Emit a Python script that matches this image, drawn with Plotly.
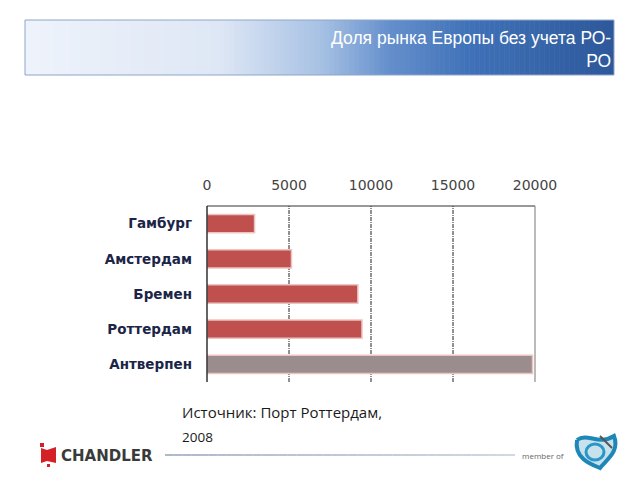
import plotly.graph_objects as go

# ---- data ----
ports = ["Гамбург", "Амстердам", "Бремен", "Роттердам", "Антверпен"]
values = [2900, 5150, 9200, 9450, 19850]
bar_colors = ["#c0504d", "#c0504d", "#c0504d", "#c0504d", "#9b8d8d"]
tick_vals = [0, 5000, 10000, 15000, 20000]
tick_text = ["0", "5000", "10000", "15000", "20000"]
title_text = "Доля рынка Европы без учета РО-<br>РО"
source_line1 = "Источник: Порт Роттердам,"
source_line2 = "2008"

# ---- layout geometry (pixels) ----
W, H = 640, 480
L, R, T, B = 207, 535, 206, 382
PW, PH = R - L, B - T


def px(x):
    return (x - L) / PW


def py(y):
    return (B - y) / PH


fig = go.Figure()
fig.add_trace(go.Bar(
    x=values, y=ports, orientation="h",
    marker=dict(color=bar_colors, line=dict(color="#ecc4c2", width=1.5)),
    width=0.52, hoverinfo="skip",
))

shapes = []

# header gradient box
stops = [(0.0, (238, 243, 251)), (0.33, (222, 231, 245)), (0.5, (168, 194, 228)),
         (0.62, (100, 143, 204)), (0.75, (64, 114, 185)), (1.0, (45, 88, 154))]


def grad(t):
    for (t0, c0), (t1, c1) in zip(stops[:-1], stops[1:]):
        if t0 <= t <= t1:
            f = (t - t0) / (t1 - t0) if t1 > t0 else 0
            return "rgb(%d,%d,%d)" % tuple(round(a + (b - a) * f) for a, b in zip(c0, c1))
    return "rgb(%d,%d,%d)" % stops[-1][1]


hx0, hx1, hy0, hy1 = 25, 614, 20, 75
n = 118
for i in range(n):
    a = hx0 + (hx1 - hx0) * i / n
    b = hx0 + (hx1 - hx0) * (i + 1) / n + 0.6
    shapes.append(dict(type="rect", xref="paper", yref="paper", layer="below",
                       x0=px(a), x1=px(min(b, hx1)), y0=py(hy1), y1=py(hy0),
                       fillcolor=grad((i + 0.5) / n), line=dict(width=0)))
shapes.append(dict(type="rect", xref="paper", yref="paper", x0=px(hx0), x1=px(hx1),
                   y0=py(hy1), y1=py(hy0), line=dict(color="#8ea5c9", width=1)))

# grid lines (dashed) from tick values
for v in tick_vals[1:-1]:
    shapes.append(dict(type="line", xref="x", yref="paper", x0=v, x1=v, y0=0, y1=1,
                       line=dict(color="#222222", width=1, dash="4px,1px,1px,1px"), layer="below"))
# plot frame: top, left, right
shapes.append(dict(type="line", xref="paper", yref="paper", x0=0, x1=1, y0=1, y1=1,
                   line=dict(color="#333333", width=1)))
shapes.append(dict(type="line", xref="paper", yref="paper", x0=0, x1=0, y0=0, y1=1,
                   line=dict(color="#111111", width=1.3)))
shapes.append(dict(type="line", xref="paper", yref="paper", x0=1, x1=1, y0=0, y1=1,
                   line=dict(color="#777777", width=1)))

# footer line
fn = 40
for i in range(fn):
    a = 165 + (515 - 165) * i / fn
    b = 165 + (515 - 165) * (i + 1) / fn
    t = i / fn
    c = (round(120 + 60 * t), round(140 + 50 * t), round(170 + 40 * t))
    shapes.append(dict(type="line", xref="paper", yref="paper", x0=px(a), x1=px(b),
                       y0=py(455), y1=py(455), line=dict(color="rgb(%d,%d,%d)" % c, width=1.2)))

# CHANDLER icon
shapes.append(dict(type="path", xref="paper", yref="paper",
                   path="M %f,%f L %f,%f L %f,%f L %f,%f L %f,%f L %f,%f Z" % (
                       px(41), py(448), px(47), py(450), px(56), py(447),
                       px(56), py(463), px(47), py(461), px(41), py(463)),
                   fillcolor="#d42027", line=dict(width=0)))
shapes.append(dict(type="rect", xref="paper", yref="paper", x0=px(40), x1=px(44),
                   y0=py(447), y1=py(443), fillcolor="#d42027", line=dict(width=0)))
shapes.append(dict(type="rect", xref="paper", yref="paper", x0=px(47), x1=px(50),
                   y0=py(467), y1=py(464), fillcolor="#d42027", line=dict(width=0)))

# member logo (approximation)
lg = "M %f,%f C %f,%f %f,%f %f,%f C %f,%f %f,%f %f,%f C %f,%f %f,%f %f,%f" % (
    px(577), py(440), px(588), py(432), px(598), py(446), px(614), py(436),
    px(620), py(452), px(606), py(460), px(600), py(468),
    px(590), py(464), px(574), py(458), px(577), py(440))
shapes.append(dict(type="path", xref="paper", yref="paper", path=lg,
                   fillcolor="rgba(31,134,184,0.25)", line=dict(color="#1f86b8", width=4)))
shapes.append(dict(type="circle", xref="paper", yref="paper", x0=px(586), x1=px(604),
                   y0=py(460), y1=py(444), line=dict(color="#2a97c8", width=3)))
shapes.append(dict(type="line", xref="paper", yref="paper", x0=px(600), x1=px(612),
                   y0=py(436), y1=py(448), line=dict(color="#555555", width=2)))

annotations = [
    dict(text=title_text, xref="paper", yref="paper", x=px(613), y=py(26),
         xanchor="right", yanchor="top", align="right", showarrow=False,
         font=dict(family="Liberation Sans, Arial", size=17.5, color="white")),
    dict(text=source_line1, xref="paper", yref="paper", x=px(180), y=py(412),
         xanchor="left", yanchor="middle", showarrow=False,
         font=dict(family="Open Sans", size=15, color="#1a1a1a")),
    dict(text=source_line2, xref="paper", yref="paper", x=px(180), y=py(437),
         xanchor="left", yanchor="middle", showarrow=False,
         font=dict(family="Open Sans", size=13.5, color="#1a1a1a")),
    dict(text="<b>CHANDLER</b>", xref="paper", yref="paper", x=px(59), y=py(456),
         xanchor="left", yanchor="middle", showarrow=False,
         font=dict(family="DejaVu Sans", size=15, color="#3a3a3a")),
    dict(text="member of", xref="paper", yref="paper", x=px(520), y=py(455),
         xanchor="left", yanchor="middle", showarrow=False,
         font=dict(family="Open Sans", size=8, color="#666666")),
]

fig.update_layout(
    width=W, height=H,
    margin=dict(l=L, r=W - R, t=T, b=H - B, pad=0),
    paper_bgcolor="white", plot_bgcolor="white",
    showlegend=False, bargap=0.48,
    shapes=shapes, annotations=annotations,
    xaxis=dict(side="top", range=[0, 20000], tickvals=tick_vals, ticktext=tick_text,
               showgrid=False, zeroline=False, showline=False, ticks="",
               ticklabelstandoff=12,
               tickfont=dict(family="DejaVu Sans", size=14, color="#444444")),
    yaxis=dict(autorange="reversed", showgrid=False, zeroline=False, showline=False,
               ticks="", ticklabelstandoff=14,
               tickfont=dict(family="DejaVu Sans", size=13.5, color="#1b2547",
                             weight="bold")),
)

fig.write_html("out.html")
